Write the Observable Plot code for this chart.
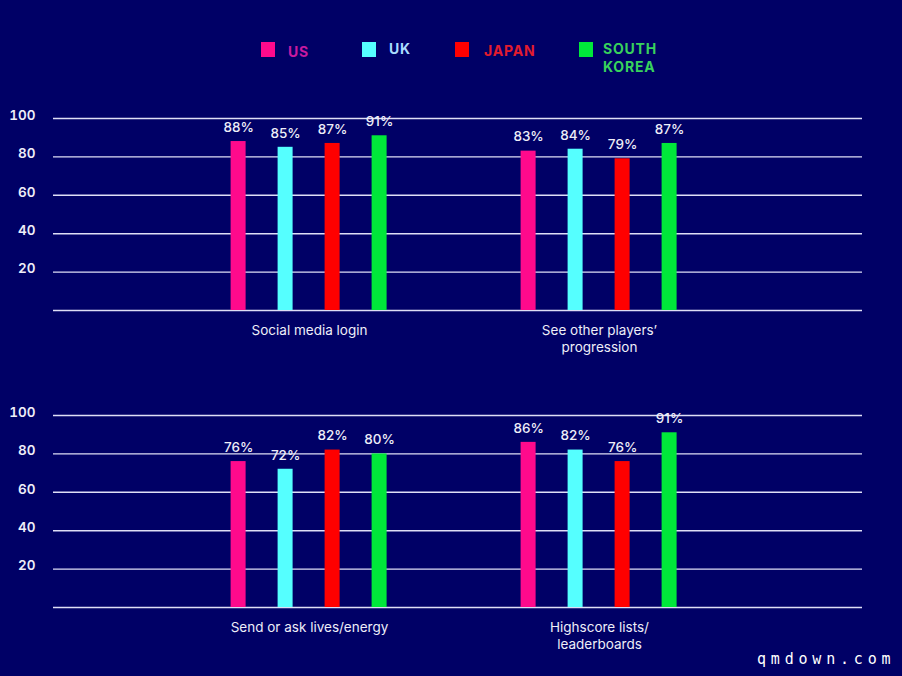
<!DOCTYPE html>
<html><head><meta charset="utf-8">
<script src="https://cdn.jsdelivr.net/npm/d3@7"></script>
<script src="https://cdn.jsdelivr.net/npm/@observablehq/plot@0.6"></script>
<style>
html,body{margin:0;padding:0;background:#000066;}
#wrap{position:relative;width:902px;height:676px;overflow:hidden;background:#000066;font-family:Inter,"Noto Sans",sans-serif;}
.panel{position:absolute;left:0;width:902px;height:270px;}
.panel svg{position:absolute;left:0;top:0;}
.sw{position:absolute;top:42px;width:14px;height:15px;}
.lab{position:absolute;top:41px;font:700 14px/18px Inter,sans-serif;letter-spacing:0.8px;}
#wm{position:absolute;left:757px;top:649px;font:500 15px/20px "DejaVu Sans Mono",monospace;letter-spacing:4.8px;color:#ffffff;}
</style></head><body>
<div id="wrap">
  <div id="legend"></div>
  <div id="p1" class="panel" style="top:95px"></div>
  <div id="p2" class="panel" style="top:392px"></div>
  <div id="wm">qmdown.com</div>
</div>
<script>
// ---- data ----
const countries = ["US", "UK", "JAPAN", "SOUTH KOREA"];
const countryColors = ["#ff0a8c", "#55ffff", "#ff0000", "#00e83a"];
const legendTextColors = ["#c81aa0", "#a9dcff", "#e31c2e", "#38d25c"];
const legendLines = [["US"], ["UK"], ["JAPAN"], ["SOUTH", "KOREA"]];

const topCategories = ["Social media login", "See other players’\nprogression"];
const bottomCategories = ["Send or ask lives/energy", "Highscore lists/\nleaderboards"];

const socialMediaLogin = [88, 85, 87, 91];
const seeOtherPlayers = [83, 84, 79, 87];
const sendAskLives = [76, 72, 82, 80];
const highscoreLists = [86, 82, 76, 91];

const yTicks = [20, 40, 60, 80, 100];
const gridValues = [0, 20, 40, 60, 80, 100];

// ---- legend layout ----
const swatchLeft = [261, 362, 455, 579];
const labelLeft = [288, 389, 484, 603];
const labelTop = [43, 40, 42, 40];
const legend = document.getElementById("legend");
countries.forEach((c, i) => {
  const s = document.createElement("div");
  s.className = "sw";
  s.style.left = swatchLeft[i] + "px";
  s.style.background = countryColors[i];
  legend.appendChild(s);
  const l = document.createElement("div");
  l.className = "lab";
  l.style.left = labelLeft[i] + "px";
  l.style.top = labelTop[i] + "px";
  l.style.color = legendTextColors[i];
  l.innerHTML = legendLines[i].join("<br>");
  legend.appendChild(l);
});

const H = 270, MT = 23, MB = 55;
const textColor = "#eeeef8";

function panel(el, categories, series) {
  const rows = categories.flatMap((cat, i) =>
    countries.map((c, j) => ({category: cat, country: c, value: series[i][j]})));

  const back = Plot.plot({
    width: 902, height: H,
    marginLeft: 53, marginRight: 40, marginTop: MT, marginBottom: MB,
    style: {background: "transparent", overflow: "visible"},
    y: {domain: [0, 100], axis: null},
    marks: [
      Plot.ruleY(gridValues, {stroke: "#dedef6", strokeWidth: 1.4}),
      Plot.axisY(yTicks, {tickSize: 0, tickPadding: 18, fill: textColor, fontSize: 13.5,
        fontWeight: 600, dy: -3, tickFormat: d => String(d), fontFamily: "Inter"})
    ]
  });

  const front = Plot.plot({
    width: 902, height: H,
    marginLeft: 192.4, marginRight: 187.4, marginTop: MT, marginBottom: MB,
    style: {background: "transparent", overflow: "visible", fontFamily: "Inter"},
    fx: {domain: categories, paddingInner: 0.2, paddingOuter: 0, axis: null, label: null},
    x: {domain: countries, paddingInner: 0.681, paddingOuter: 0.8, axis: null},
    y: {domain: [0, 100], axis: null},
    color: {domain: countries, range: countryColors},
    marks: [
      Plot.barY(rows, {fx: "category", x: "country", y: "value", fill: "country"}),
      Plot.text(rows, {fx: "category", x: "country", y: "value", text: d => d.value + "%",
        dy: -14, fill: textColor, fontSize: 13.5, fontWeight: 500}),
      Plot.text(categories, {fx: d => d, text: d => d, frameAnchor: "bottom", lineAnchor: "top",
        dy: 13, fill: textColor, fontSize: 13.5, lineHeight: 1.24})
    ]
  });
  el.appendChild(back);
  el.appendChild(front);
}

panel(document.getElementById("p1"), topCategories, [socialMediaLogin, seeOtherPlayers]);
panel(document.getElementById("p2"), bottomCategories, [sendAskLives, highscoreLists]);
</script>
</body></html>
